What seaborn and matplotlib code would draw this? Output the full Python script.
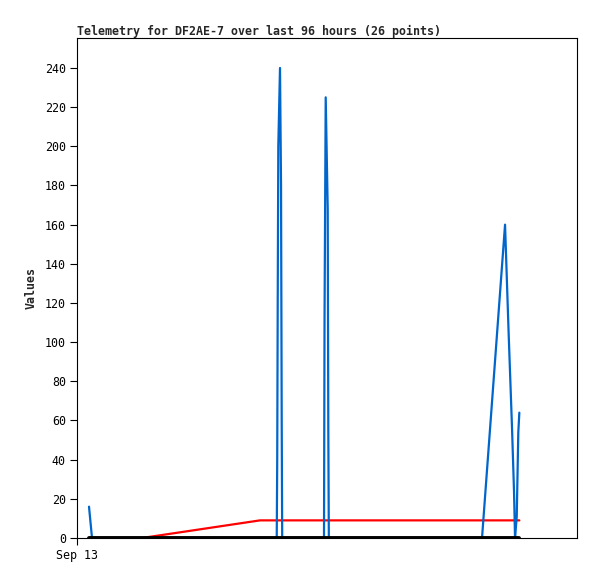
import matplotlib
matplotlib.use("Agg")
import matplotlib.pyplot as plt
import seaborn as sns
import pandas as pd

# hours since Sep 13 00:00
blue_hours = [2.68, 3.35, 44.58, 44.69, 44.80, 44.93, 45.31, 45.54, 45.69, 45.80,
              55.13, 55.25, 55.51, 55.96, 56.09, 56.21,
              90.40, 95.54, 96.32, 97.10, 97.32, 97.54, 97.77, 98.15, 98.50, 98.73]
blue_values = [16, 0, 0, 40, 120, 200, 240, 180, 60, 0,
               0, 112, 225, 168, 56, 0,
               0, 160, 106, 56, 40, 24, 0, 11, 54, 64]
red_hours = [2.68, 14.5, 40.85, 98.73]
red_values = [0, 0, 9, 9]
black_hours = [2.68, 98.73]
black_values = [0, 0]

x_ticks = [0]
x_tick_labels = ["Sep 13"]
y_ticks = list(range(0, 241, 20))

sns.set_style("white")
plt.rcParams["font.family"] = ["DejaVu Sans Mono"]

fig = plt.figure(figsize=(5.97, 5.79), dpi=100)
ax = fig.add_axes([77/597, 1-538/579, 500/597, 500/579])

df_red = pd.DataFrame({"h": red_hours, "v": red_values})
df_blue = pd.DataFrame({"h": blue_hours, "v": blue_values})
df_black = pd.DataFrame({"h": black_hours, "v": black_values})

sns.lineplot(data=df_red, x="h", y="v", ax=ax, color="#FF0000", linewidth=1.6,
             estimator=None, sort=False)
sns.lineplot(data=df_blue, x="h", y="v", ax=ax, color="#0066CC", linewidth=1.6,
             estimator=None, sort=False)
sns.lineplot(data=df_black, x="h", y="v", ax=ax, color="black", linewidth=2.8,
             estimator=None, sort=False)

ax.set_xlim(0, 111.6)
ax.set_ylim(0, 255.3)
ax.set_xticks(x_ticks)
ax.set_xticklabels(x_tick_labels)
ax.set_yticks(y_ticks)
ax.tick_params(axis="both", direction="out", length=5, width=0.8, labelsize=8.4,
               colors="black", bottom=True, left=True, pad=3)
for s in ax.spines.values():
    s.set_color("black")
    s.set_linewidth(0.8)

ax.set_xlabel("")
ax.set_ylabel("Values", fontsize=8.4, fontweight="bold", labelpad=5)
ax.set_title("Telemetry for DF2AE-7 over last 96 hours (26 points)", loc="left",
             fontsize=8.4, fontweight="bold", pad=2)

fig.savefig("out.png", dpi=100)
